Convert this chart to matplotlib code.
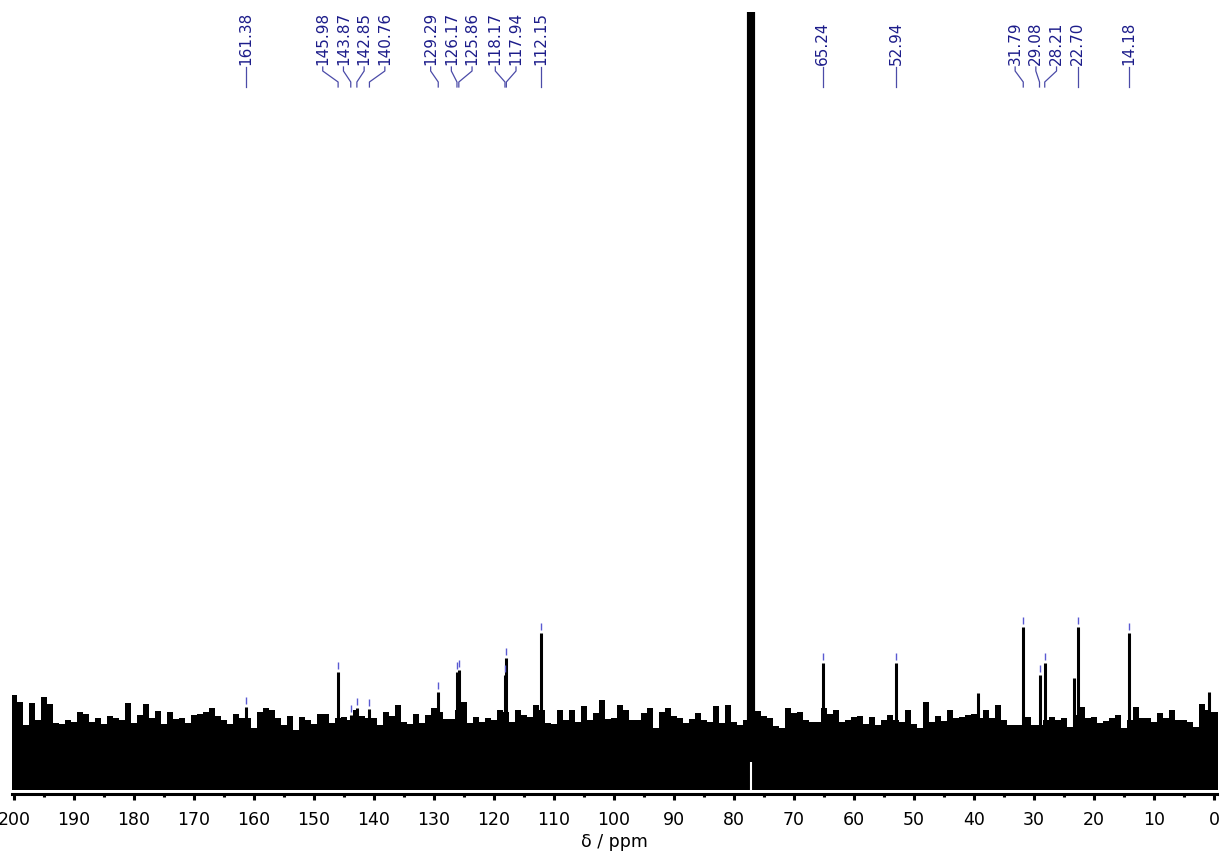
import numpy as np
import matplotlib
matplotlib.use('Agg')
import matplotlib.pyplot as plt
from matplotlib import transforms

# noise envelope, one value per ppm from 200 down to 0
noise_ppm = np.arange(200, -1, -1)
noise_top = [95, 88, 65, 87, 70, 93, 86, 67, 66, 70, 68, 78, 76, 68, 72, 66, 74, 72, 70, 87,
             67, 75, 86, 72, 79, 66, 78, 71, 72, 67, 75, 76, 78, 82,
             74, 70, 66, 76, 72, 72, 62, 78, 82, 80, 72, 65, 74, 60, 73, 70, 66, 76, 76, 67,
             72, 73, 70, 80, 74, 72, 72, 65, 78, 74, 85, 68, 66,
             76, 67, 75, 82, 78, 71, 71, 80, 88, 67, 73, 68, 72, 70, 80, 78, 68, 80, 75, 73,
             85, 80, 67, 66, 80, 70, 80, 68, 84, 70, 77, 90, 71,
             72, 85, 80, 70, 70, 77, 82, 62, 78, 82, 74, 72, 67, 71, 77, 70, 68, 84, 67, 85,
             68, 65, 70, 78, 79, 74, 72, 64, 62, 82, 77, 78, 70, 68,
             68, 82, 76, 80, 68, 70, 73, 74, 66, 73, 65, 70, 75, 70, 68, 80, 66, 62, 88, 68,
             74, 69, 80, 72, 73, 75, 76, 72, 80, 72, 85, 70, 65,
             65, 65, 73, 65, 65, 70, 73, 70, 72, 63, 75, 83, 72, 73, 67, 69, 72, 75, 62, 70,
             83, 72, 72, 68, 77, 72, 80, 70, 70, 68, 63, 86, 80, 78]

# labelled peaks
peak_ppm = [161.38, 145.98, 143.87, 142.85, 140.76, 129.29, 126.17, 125.86, 118.17, 117.94,
            112.15, 65.24, 52.94, 31.79, 29.08, 28.21, 22.70, 14.18]
peak_height = [83, 118, 75, 82, 81, 98, 118, 120, 115, 132,
               157, 127, 127, 163, 115, 127, 163, 157]

# unlabelled peaks
extra_ppm = [39.4, 23.3, 0.8]
extra_height = [97, 112, 98]

# CDCl3 triplet (off scale)
solvent_ppm = [77.48, 77.16, 76.84]
solvent_height = 2000
solvent_floor = 28

W, H = 1221, 856
fig = plt.figure(figsize=(W / 100, H / 100), dpi=100)
ax = fig.add_axes([12 / W, 66 / H, 1205 / W, 778 / H])

# dense noise floor
x_edges = np.concatenate([[200.5], noise_ppm, [-0.6]])
y_edges = np.concatenate([[noise_top[0]], noise_top, [noise_top[-1]]])
ax.fill_between(x_edges, 0, y_edges, step='mid', color='black', lw=0)

ax.vlines(peak_ppm, 0, peak_height, color='black', lw=2.2, capstyle='butt')
ax.vlines(extra_ppm, 0, extra_height, color='black', lw=2.2, capstyle='butt')
ax.vlines(solvent_ppm, 0, solvent_height, color='black', lw=3.0, capstyle='butt')
ax.vlines(solvent_ppm[1], 0, solvent_floor, color='white', lw=1.5, capstyle='butt')

# small blue marks on picked peaks
ax.vlines(peak_ppm, np.array(peak_height) + 3, np.array(peak_height) + 10,
          color='#5a5ad2', lw=1.0)

ax.set_xlim(200.33, -0.5)
ax.set_ylim(0, 778)

# spread labels so they don't overlap
gap = 3.45
order = sorted(range(len(peak_ppm)), key=lambda i: -peak_ppm[i])
groups = [[i] for i in order]
centers = [peak_ppm[i] for i in order]
changed = True
while changed:
    changed = False
    for k in range(len(groups) - 1):
        lo = centers[k] - gap * (len(groups[k]) - 1) / 2
        hi = centers[k + 1] + gap * (len(groups[k + 1]) - 1) / 2
        if lo - hi < gap - 1e-9:
            merged = groups[k] + groups[k + 1]
            centers[k] = np.mean([peak_ppm[i] for i in merged])
            groups[k] = merged
            del groups[k + 1]
            del centers[k + 1]
            changed = True
            break
label_pos = {}
for g, c in zip(groups, centers):
    n = len(g)
    for j, i in enumerate(g):
        label_pos[i] = c + gap * ((n - 1) / 2 - j)

blend = transforms.blended_transform_factory(ax.transData, fig.transFigure)
def fy(px):
    return 1 - px / H

lab_col = '#1c1c8a'
line_col = '#4b4ba8'
for i, p in enumerate(peak_ppm):
    lx = label_pos[i]
    ax.text(lx, fy(65), f'{p:.2f}', rotation=90, ha='center', va='bottom',
            fontsize=11, color=lab_col, transform=blend)
    if abs(lx - p) < 0.3:
        ax.plot([lx, lx], [fy(67), fy(87)], color=line_col, lw=0.9,
                transform=blend, clip_on=False)
    else:
        ax.plot([lx, lx, p, p], [fy(67), fy(71), fy(82), fy(87)], color=line_col,
                lw=0.9, transform=blend, clip_on=False)

for s in ['top', 'left', 'right']:
    ax.spines[s].set_visible(False)
ax.spines['bottom'].set_position(('outward', 3.2))
ax.spines['bottom'].set_linewidth(2.2)
ax.set_yticks([])
ax.set_xticks(np.arange(0, 201, 10))
ax.set_xticks(np.arange(5, 200, 10), minor=True)
ax.tick_params(axis='x', which='major', length=4, width=2.2, labelsize=12.5, pad=8)
ax.tick_params(axis='x', which='minor', length=2, width=2.2)
ax.set_xlabel('δ / ppm', fontsize=12.5, labelpad=3)

fig.savefig('out.png', dpi=100)
